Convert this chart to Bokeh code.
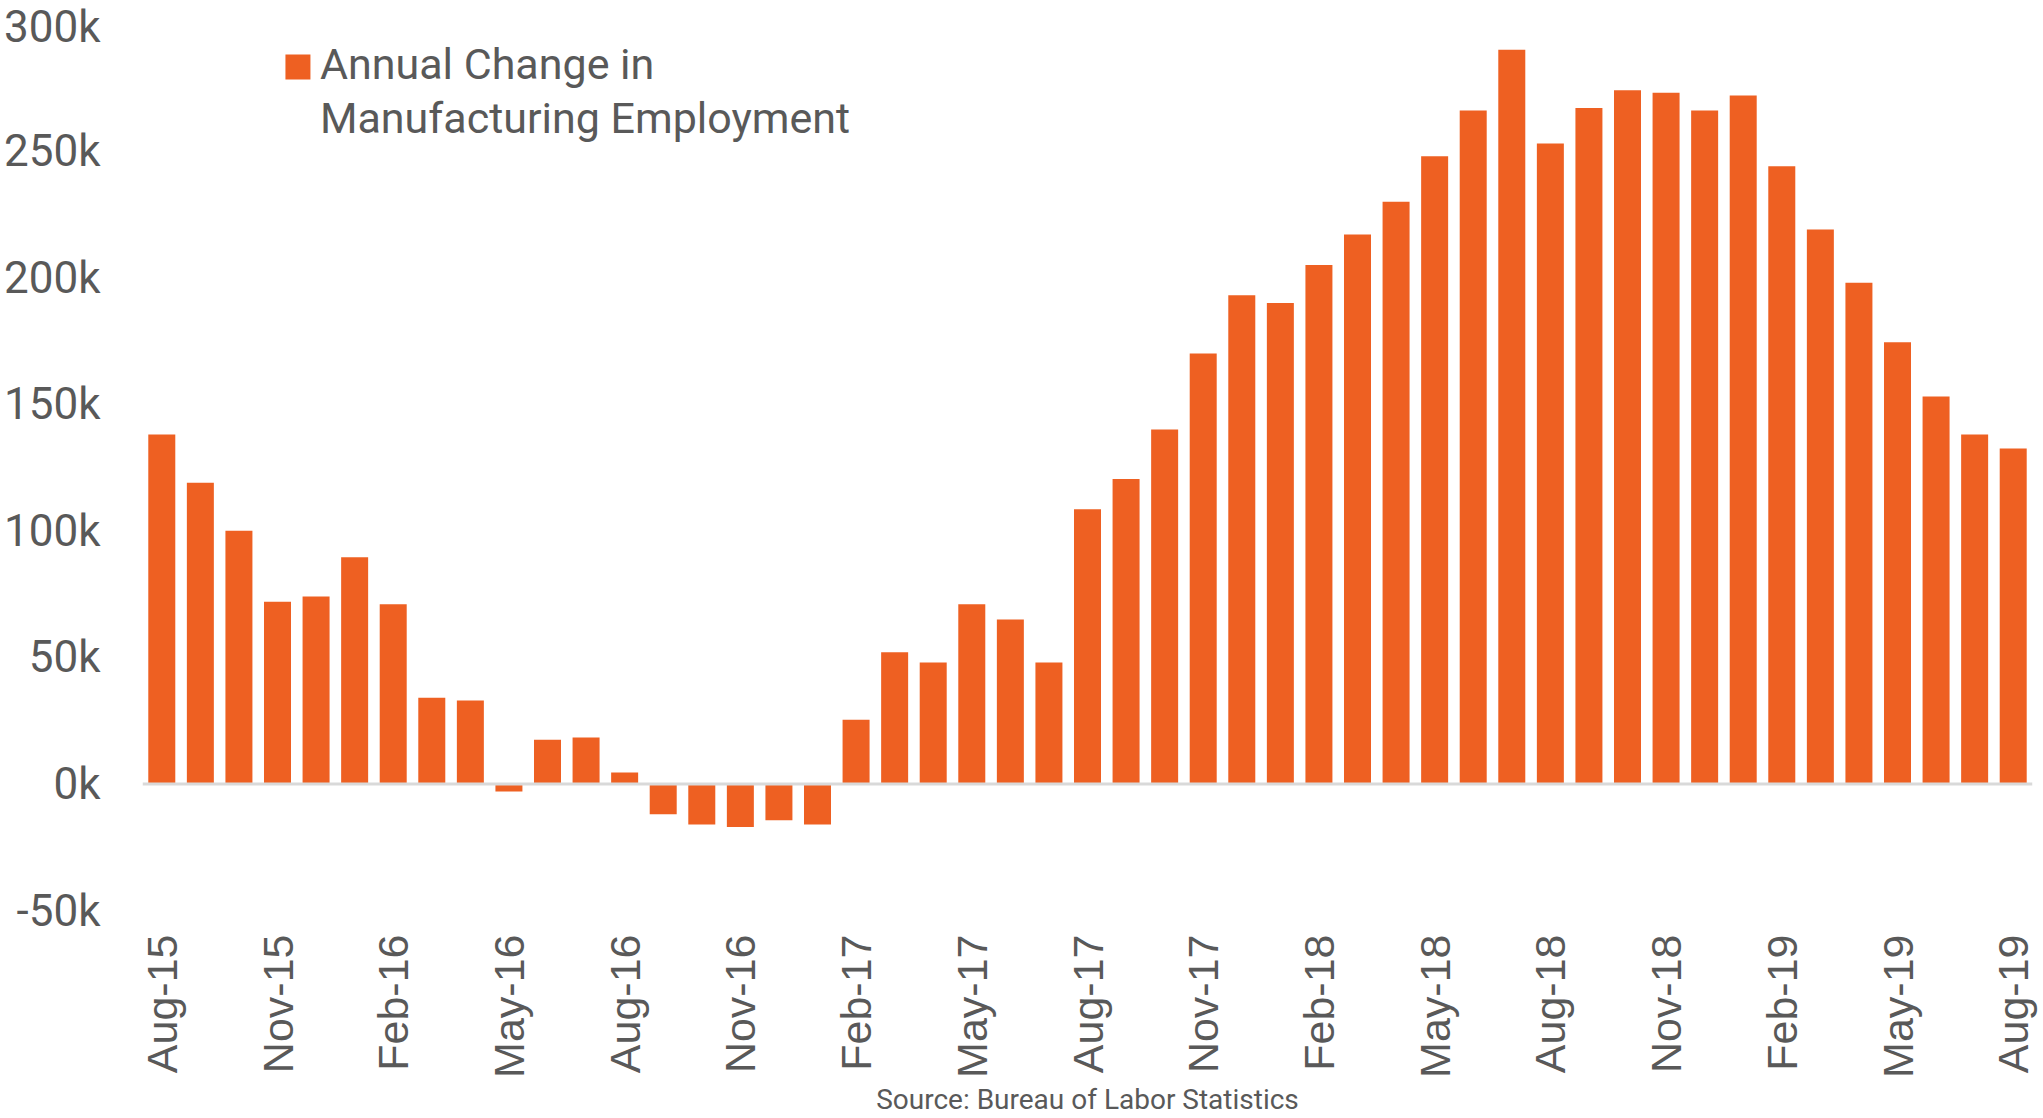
from math import pi
from bokeh.plotting import figure
from bokeh.models import Range1d, FixedTicker, Span, Label
from bokeh.embed import file_html
from bokeh.resources import INLINE

# Annual change in manufacturing employment, thousands (Aug-15 .. Aug-19, monthly)
change_k = [138, 119, 100, 72, 74, 89.5, 71, 34, 33, -3,
            17.5, 18.3, 4.5, -12, -16, -17, -14.3, -16, 25.4, 52,
            48, 71, 65, 48, 108.5, 120.5, 140, 170, 193, 190,
            205, 217, 230, 248, 266, 290, 253, 267, 274, 273,
            266, 272, 244, 219, 198, 174.5, 153, 138, 132.5]
tick_labels = ["Aug-15", "Nov-15", "Feb-16", "May-16", "Aug-16", "Nov-16",
               "Feb-17", "May-17", "Aug-17", "Nov-17", "Feb-18", "May-18",
               "Aug-18", "Nov-18", "Feb-19", "May-19", "Aug-19"]
y_ticks = [-50000, 0, 50000, 100000, 150000, 200000, 250000, 300000]
y_labels = ["-50k", "0k", "50k", "100k", "150k", "200k", "250k", "300k"]
series_name = ["Annual Change in", "Manufacturing Employment"]
source_text = "Source: Bureau of Labor Statistics"

values = [v * 1000 for v in change_k]
idx = list(range(len(values)))
tick_pos = list(range(0, len(values), 3))

BAR = "#EE6022"
TXT = "#595959"

p = figure(width=2043, height=1118, output_backend="svg", toolbar_location=None,
           x_range=Range1d(-0.5, len(values) - 0.5),
           y_range=Range1d(y_ticks[0], y_ticks[-1]),
           min_border_left=142, min_border_right=11, min_border_top=24,
           min_border_bottom=207)
p.outline_line_color = None
p.grid.visible = False
p.background_fill_color = "white"
p.border_fill_color = "white"

p.vbar(x=idx, top=values, width=0.7, fill_color=BAR, line_color=None)

p.add_layout(Span(location=0, dimension="width", line_color="#D9D9D9", line_width=3))

# axes
p.xaxis.ticker = FixedTicker(ticks=tick_pos)
p.xaxis.major_label_overrides = {t: l for t, l in zip(tick_pos, tick_labels)}
p.xaxis.major_label_orientation = pi / 2
p.xaxis.major_label_text_font = "Liberation Sans"
p.xaxis.major_label_text_font_size = "43px"
p.xaxis.major_label_text_color = TXT
p.xaxis.major_label_standoff = 24
p.xaxis.axis_label = source_text
p.xaxis.axis_label_text_font = "Roboto"
p.xaxis.axis_label_text_font_size = "28px"
p.xaxis.axis_label_text_font_style = "normal"
p.xaxis.axis_label_text_color = TXT
p.xaxis.axis_label_standoff = 2

p.yaxis.ticker = FixedTicker(ticks=y_ticks)
p.yaxis.major_label_overrides = {t: l for t, l in zip(y_ticks, y_labels)}
p.yaxis.major_label_text_font = "Roboto"
p.yaxis.major_label_text_font_size = "44px"
p.yaxis.major_label_text_color = TXT
p.yaxis.major_label_standoff = 42

for ax in (p.xaxis, p.yaxis):
    ax.axis_line_color = None
    ax.major_tick_line_color = None
    ax.minor_tick_line_color = None
    ax.major_tick_out = 0
    ax.major_tick_in = 0
    ax.minor_tick_out = 0
    ax.minor_tick_in = 0

# legend key + text
p.scatter(x=[3.53], y=[283200], marker="square", size=25, fill_color=BAR, line_color=None)
p.add_layout(Label(x=4.10, y=284300, text=series_name[0], text_font="Roboto",
                   text_font_size="43px", text_color=TXT, text_baseline="middle",
                   text_align="left"))
p.add_layout(Label(x=4.10, y=263200, text=series_name[1], text_font="Roboto",
                   text_font_size="43px", text_color=TXT, text_baseline="middle",
                   text_align="left"))

open("out.html", "w").write(file_html(p, INLINE))
